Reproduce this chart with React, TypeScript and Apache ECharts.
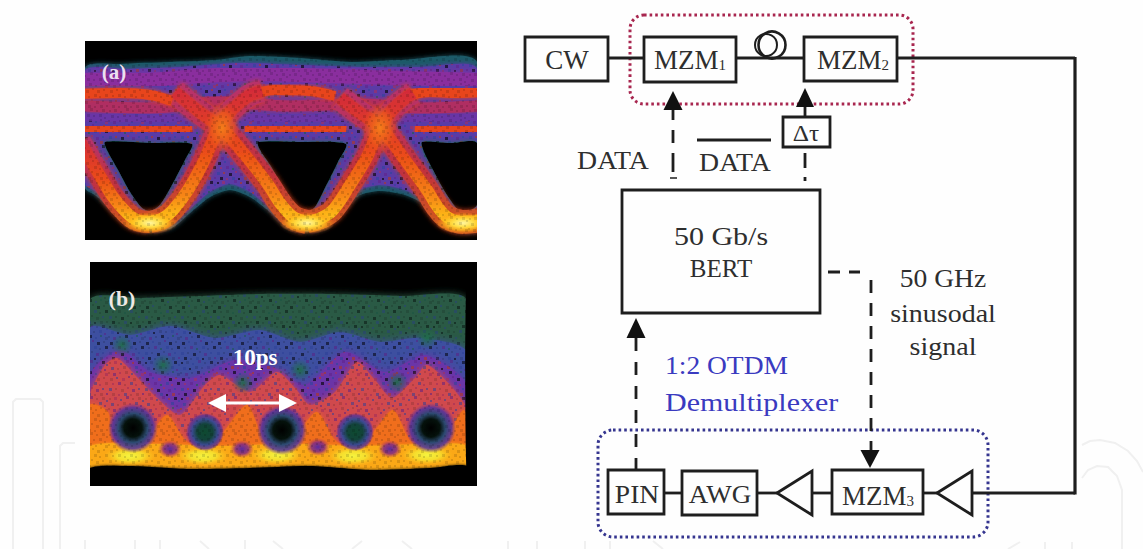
import React, { useEffect, useRef } from "react";
import * as echarts from "echarts";

type P = number[];
// ---- eye diagram (a): polygons & traces in sample units
const aEnvelope: P[] = [[85,68],[120,64],[170,62],[215,60],[250,56],[300,58],[350,62],[400,60],[477,62],[477,230],[463,232],[445,226],[425,205],[405,195],[380,191],[360,195],[340,212],[325,228],[307,232],[288,228],[270,212],[250,197],[230,190],[210,197],[190,213],[172,228],[150,232],[130,226],[110,208],[95,195],[85,188]];
const aInner: P[] = [[85,71],[130,69],[180,67],[240,63],[300,65],[360,67],[420,67],[477,69],[477,226],[463,228],[445,222],[425,201],[405,190],[380,185],[360,190],[340,208],[325,224],[307,228],[288,224],[270,208],[250,192],[230,184],[210,192],[190,209],[172,224],[150,228],[130,222],[110,204],[95,191],[85,184]];
const aEye1: P[] = [[105,142],[150,143],[192,144],[185,160],[172,185],[160,205],[150,211],[142,208],[130,192],[118,170],[108,152]];
const aEye2: P[] = [[258,142],[300,142],[346,144],[338,162],[325,188],[315,207],[307,212],[298,207],[285,190],[270,165],[260,150]];
const aEye3: P[] = [[422,142],[450,143],[477,143],[477,205],[465,212],[458,210],[445,192],[433,170],[424,152]];
const aBandTop: P[] = [[85,80],[140,80],[200,76],[260,74],[330,76],[400,78],[477,80]];
const aBandUpper: P[] = [[85,106],[150,108],[220,102],[290,106],[360,104],[420,108],[477,106]];
const aBandMid: P[] = [[85,117],[150,119],[220,116],[290,119],[360,117],[420,119],[477,117]];
const aRailTop1: P[] = [[80,94],[120,93],[150,95],[172,101]];
const aRailTop2: P[] = [[247,96],[275,90],[310,91],[335,96]];
const aRailTop3: P[] = [[405,96],[430,92],[455,93],[482,92]];
const aRailLow1: P[] = [[80,129],[120,128],[160,130],[192,128]];
const aRailLow2: P[] = [[245,128],[280,130],[320,128],[346,130]];
const aRailLow3: P[] = [[415,129],[445,130],[482,128]];
const aFall0: P[] = [[80,142],[100,176],[113,197],[127,213],[137,220],[150,222]];
const aRise1: P[] = [[150,222],[163,218],[173,210],[188,190],[203,163],[223,120],[247,97],[262,91]];
const aFall1: P[] = [[175,92],[197,110],[223,130],[245,155],[267,183],[280,203],[293,217],[307,222]];
const aRise2: P[] = [[307,222],[321,218],[333,210],[350,185],[367,157],[380,127],[395,107],[413,93]];
const aFall2: P[] = [[340,98],[360,113],[380,127],[405,160],[427,190],[437,206],[447,217],[463,222],[482,220]];
const aHot: P[] = [[150,223],[307,223],[463,223]];
const aCross: P[] = [[222,128],[380,128]];

// ---- eye diagram (b)
const bGreen: P[] = [[90,300],[140,298],[200,296],[260,294],[330,294],[400,296],[467,300],[467,470],[90,470]];
const bBlue: P[] = [[90,328],[130,335],[170,326],[215,338],[260,330],[300,342],[340,332],[380,342],[420,338],[467,352],[467,470],[90,470]];
const bPurple: P[] = [[90,375],[120,350],[150,372],[190,378],[235,360],[275,368],[305,385],[345,352],[385,372],[425,355],[467,385],[467,470],[90,470]];
const bRed: P[] = [[90,395],[105,365],[117,358],[135,375],[157,398],[180,415],[205,385],[220,375],[250,392],[277,372],[295,388],[310,405],[335,392],[357,362],[375,380],[392,398],[415,378],[427,365],[450,385],[467,410],[467,470],[90,470]];
const bOrange: P[] = [[90,405],[108,412],[112,440],[133,450],[150,435],[167,415],[185,440],[205,450],[225,430],[247,405],[262,435],[282,450],[300,430],[317,412],[335,440],[355,450],[375,430],[393,410],[410,440],[430,450],[450,430],[463,410],[467,415],[467,470],[90,470]];
const bBand: P[] = [[90,446],[150,444],[220,446],[290,444],[360,446],[430,444],[467,446],[467,470],[90,470]];
const bFloor: P[] = [[90,468],[130,466],[190,469],[250,468],[310,466],[370,470],[430,468],[467,466],[467,486],[90,486]];
const bStrip: P[] = [[467,262],[477,262],[477,486],[467,486]];
const bHolesBig: P[] = [[133,428],[282,430],[431,428]];
const bHolesSmall: P[] = [[205,432],[355,432]];
const bSpots: P[] = [[170,449],[242,449],[318,447],[390,449]];
const bGreenSpots: P[] = [[163,365],[243,383],[397,382],[122,345],[427,338],[300,370]];
const bYellow: P[] = [[130,456],[203,456],[277,455],[353,456],[427,455]];

// speckle tile: [x, y, size, colour index]
const tilePalette = ["#000000", "#d13a7a", "#3b55c8", "#7a2bb0", "#e0452c", "#1f7a60"];
const tileDots: number[][] = [
  [1,2,2,0],[6,1,3,1],[12,3,2,2],[18,0,3,3],[24,2,2,4],[30,1,3,0],[34,4,2,2],
  [3,7,3,2],[9,8,2,0],[15,6,3,4],[21,7,2,1],[27,6,3,2],[32,9,2,3],
  [0,12,2,4],[5,13,3,3],[11,12,2,1],[17,11,3,0],[23,13,2,2],[28,11,2,5],[33,13,3,1],
  [2,18,3,0],[8,17,2,2],[14,18,3,1],[20,16,2,3],[25,18,3,0],[31,17,2,4],
  [4,23,2,1],[10,22,3,3],[16,24,2,5],[22,22,3,2],[27,24,2,1],[33,22,3,0],
  [1,28,3,2],[7,28,2,4],[13,29,3,0],[19,27,2,1],[24,29,3,3],[30,28,2,2],
  [4,33,3,0],[10,34,2,1],[16,33,3,2],[22,34,2,0],[28,33,3,4],[34,33,2,3],
];
const tile = (opacity: number, only?: number[], ink?: string) => {
  const body = tileDots
    .filter((d) => !only || only.includes(d[3]))
    .map((d) => `<rect x="${d[0]}" y="${d[1]}" width="${d[2]}" height="${d[2]}" fill="${ink || tilePalette[d[3]]}" opacity="${opacity}"/>`)
    .join("");
  const svg = `<svg xmlns="http://www.w3.org/2000/svg" width="36" height="36">${body}</svg>`;
  return { image: "data:image/svg+xml;utf8," + encodeURIComponent(svg), repeat: "repeat", imageWidth: 36, imageHeight: 36 };
};
const colourTile = tile(0.55);
const darkTile = tile(0.13, undefined, "#000000");

const polygonsA = [
  { pts: aEnvelope, fill: "#1f5a68", blur: 5 },
  { pts: aInner, fill: "#5a3aa6", blur: 4 },
  { pts: aInner, fill: colourTile, blur: 0 },
  { pts: aEye1, fill: "#000", blur: 5, glow: "#1f6a55" },
  { pts: aEye2, fill: "#000", blur: 5, glow: "#1f6a55" },
  { pts: aEye3, fill: "#000", blur: 5, glow: "#1f6a55" },
];
const polygonsB = [
  { pts: bGreen, fill: "#2a5a44", blur: 7 },
  { pts: bGreen, fill: tile(0.32, [0, 2, 5]), blur: 0 },
  { pts: bBlue, fill: "#3d50a0", blur: 8 },
  { pts: bBlue, fill: tile(0.45, [0, 2, 5, 3]), blur: 0 },
  { pts: bPurple, fill: "#6a34a8", blur: 8 },
  { pts: bPurple, fill: colourTile, blur: 0 },
  { pts: bRed, fill: "#d0484e", blur: 6 },
  { pts: bRed, fill: tile(0.45, [1, 3, 2]), blur: 0 },
  { pts: bOrange, fill: "#f06e1a", blur: 4 },
  { pts: bBand, fill: "#fba816", blur: 3 },
  { pts: bFloor, fill: "#000", blur: 3 },
  { pts: bStrip, fill: "#000", blur: 0 },
];

const polySeries = (name: string, idx: number, list: any[], z: number) => ({
  type: "custom" as const,
  name,
  xAxisIndex: idx,
  yAxisIndex: idx,
  silent: true,
  clip: true,
  z,
  data: list.map((_, i) => [i]),
  renderItem: (_p: any, api: any) => {
    const o = list[api.value(0)];
    const s: any = { fill: o.fill };
    if (o.blur) {
      s.shadowBlur = o.blur;
      s.shadowColor = o.glow || o.fill;
    }
    return { type: "polygon", shape: { points: o.pts.map((p: P) => api.coord(p)), smooth: 0.25 }, style: s };
  },
});
const trace = (data: P[], width: number, color: any, z: number, blur = 3) => ({
  type: "line" as const,
  xAxisIndex: 0,
  yAxisIndex: 0,
  data,
  smooth: 0.35,
  showSymbol: false,
  silent: true,
  z,
  clip: true,
  lineStyle: { width, color, cap: "butt", shadowBlur: blur, shadowColor: typeof color === "string" ? color : "#d8401e" },
});
const vGrad = new echarts.graphic.LinearGradient(0, 0, 0, 1, [
  { offset: 0, color: "#d42c38" },
  { offset: 0.45, color: "#ea4a1a" },
  { offset: 0.8, color: "#f78612" },
  { offset: 1, color: "#ffc81c" },
]);
const haloGrad = new echarts.graphic.LinearGradient(0, 0, 0, 1, [
  { offset: 0, color: "#b8306a" },
  { offset: 0.6, color: "#c0303f" },
  { offset: 1, color: "#d05a20" },
]);
const blob = (stops: [number, string][]) =>
  new echarts.graphic.RadialGradient(0.5, 0.5, 0.5, stops.map(([offset, color]) => ({ offset, color })));
const scatter = (data: P[], size: any, color: any, idx: number, z: number) => ({
  type: "scatter" as const,
  xAxisIndex: idx,
  yAxisIndex: idx,
  data,
  symbolSize: size,
  silent: true,
  z,
  itemStyle: { color, opacity: 1 },
});

const INK = "#1e1e1e";
const serif = "'Liberation Serif', serif";
const box = (x: number, y: number, w: number, h: number, lw = 2.8) => ({
  type: "rect", z: 20, shape: { x, y, width: w, height: h },
  style: { fill: "rgba(255,255,255,0)", stroke: INK, lineWidth: lw },
});
const seg = (x1: number, y1: number, x2: number, y2: number, lw = 2.8, dash?: number[]) => ({
  type: "line", z: 20, shape: { x1, y1, x2, y2 },
  style: { stroke: INK, lineWidth: lw, lineDash: dash },
});
const head = (x: number, y: number, w: number, h: number, dir: 1 | -1) => ({
  type: "polygon", z: 21, shape: { points: [[x, y], [x - w / 2, y + dir * h], [x + w / 2, y + dir * h]] },
  style: { fill: "#111" },
});
const label = (text: string, x: number, y: number, size = 26, sx = 1, fill = "#2e2e2e", align = "center") => ({
  type: "text", z: 22, x, y, scaleX: sx,
  style: { text, fill, font: `${size}px ${serif}`, align, verticalAlign: "middle" },
});
const subLabel = (main: string, sub: string, x: number, y: number) => ({
  type: "text", z: 22, x, y,
  style: {
    text: `{m|${main}}{s|${sub}}`, align: "center", verticalAlign: "middle",
    rich: {
      m: { font: `27px ${serif}`, fill: "#2e2e2e" },
      s: { font: `15px ${serif}`, fill: "#2e2e2e", padding: [9, 0, 0, 0] },
    },
  },
});
const tri = (ax: number, bx: number, y: number, hh: number) => ({
  type: "polygon", z: 20, shape: { points: [[ax, y], [bx, y - hh], [bx, y + hh]] },
  style: { fill: "rgba(255,255,255,0)", stroke: INK, lineWidth: 2.8 },
});
const wm = (points: number[][]) => ({
  type: "polyline", z: 1, shape: { points, smooth: 0 }, style: { stroke: "#f0f0f0", lineWidth: 2, fill: "none" },
});
const mask = (x: number, y: number, width: number, height: number) => ({
  type: "rect", z: 15, shape: { x, y, width, height }, style: { fill: "#fefefe" },
});

const graphics: any[] = [
  // faint watermark outlines
  wm([[13, 549], [13, 402], [16, 399], [40, 399], [43, 402], [43, 549]]),
  wm([[60, 549], [60, 446], [63, 443], [78, 443]]),
  wm([[85, 540], [85, 549]]), wm([[135, 540], [135, 549]]), wm([[160, 540], [160, 549]]), wm([[245, 540], [245, 549]]),
  wm([[200, 541], [209, 549]]), wm([[273, 541], [283, 549]]), wm([[362, 541], [352, 549]]), wm([[402, 541], [412, 549]]),
  wm([[508, 541], [508, 549]]), wm([[537, 541], [537, 549]]), wm([[585, 541], [585, 549]]), wm([[610, 541], [610, 549]]),
  wm([[653, 541], [663, 549]]), wm([[1020, 542], [1008, 549]]), wm([[1045, 542], [1045, 549]]), wm([[1072, 542], [1072, 549]]),
  wm([[1082, 445], [1090, 441], [1100, 440], [1115, 443], [1128, 451], [1137, 461], [1143, 472]]),
  wm([[1082, 478], [1088, 470], [1097, 466], [1108, 467], [1117, 476], [1122, 490], [1122, 549]]),
  // fine grain, and tidy panel edges
  { type: "rect", z: 9, shape: { x: 85, y: 41, width: 392, height: 199 }, style: { fill: darkTile } },
  { type: "rect", z: 9, shape: { x: 90, y: 262, width: 387, height: 224 }, style: { fill: darkTile } },
  mask(70, 26, 15, 226), mask(477, 26, 16, 226), mask(70, 26, 423, 15), mask(70, 240, 423, 12),
  mask(75, 250, 15, 250), mask(477, 250, 16, 250), mask(75, 250, 418, 12), mask(75, 486, 418, 14),
  // panel overlays
  { type: "text", z: 30, x: 114, y: 72, style: { text: "(a)", fill: "#ecdff0", font: `bold 21px ${serif}`, align: "center", verticalAlign: "middle" } },
  { type: "text", z: 30, x: 122, y: 298, style: { text: "(b)", fill: "#efe9e4", font: `bold 22px ${serif}`, align: "center", verticalAlign: "middle" } },
  { type: "text", z: 30, x: 255, y: 357, style: { text: "10ps", fill: "#fff", font: `bold 23px ${serif}`, align: "center", verticalAlign: "middle" } },
  { type: "line", z: 30, shape: { x1: 215, y1: 403, x2: 290, y2: 403 }, style: { stroke: "#fff", lineWidth: 3 } },
  { type: "polygon", z: 30, shape: { points: [[208, 403], [226, 394], [226, 412]] }, style: { fill: "#fff" } },
  { type: "polygon", z: 30, shape: { points: [[297, 403], [279, 394], [279, 412]] }, style: { fill: "#fff" } },
  // top row
  box(525, 37, 83, 44), box(644, 37, 92, 45), box(804, 37, 93, 44),
  seg(608, 58, 644, 58), seg(736, 58, 804, 58), seg(897, 58, 1075, 58, 3.2),
  seg(1075, 57, 1075, 494.6, 3.2), seg(972, 493, 1075, 493, 3.2),
  { type: "circle", z: 20, shape: { cx: 772, cy: 45, r: 13.5 }, style: { fill: "none", stroke: INK, lineWidth: 2.6 } },
  { type: "circle", z: 20, shape: { cx: 766, cy: 45, r: 11 }, style: { fill: "none", stroke: INK, lineWidth: 2 } },
  { type: "rect", z: 19, shape: { x: 630, y: 15, width: 283, height: 89, r: 14 }, style: { fill: "none", stroke: "#a8264f", lineWidth: 3, lineDash: [2.6, 3] } },
  label("CW", 567, 60, 27),
  subLabel("MZM", "1", 690, 60),
  subLabel("MZM", "2", 853, 60),
  // control arrows
  head(673, 91, 19, 19, 1), seg(673, 110, 673, 120), seg(673, 130, 673, 143), seg(673, 153, 673, 172), seg(670, 178, 677, 178, 1.5),
  head(805, 88, 18, 19, 1), seg(805, 107, 805, 117),
  box(783, 117, 47, 30), label("Δτ", 806, 133, 23, 1.1),
  seg(805, 153, 805, 168), seg(805, 177, 805, 181),
  seg(697, 140, 771, 140),
  label("DATA", 613, 160, 25, 1.11), label("DATA", 735, 162, 25, 1.11),
  // BERT
  box(622, 190, 198, 123),
  label("50 Gb/s", 721, 236, 25, 1.2), label("BERT", 721, 268, 25),
  seg(828, 272, 860, 272, 2.8, [12, 9]),
  seg(871, 280, 871, 450, 2.8, [13, 10]),
  label("50 GHz", 943, 279, 25, 1.1), label("sinusodal", 943, 314, 25, 1.12), label("signal", 943, 347, 25, 1.12),
  label("1:2 OTDM", 665, 366, 25, 1.1, "#3a3ac0", "left"), label("Demultiplexer", 665, 402, 25, 1.2, "#3a3ac0", "left"),
  head(636, 318, 19, 20, 1), seg(636, 338, 636, 470, 2.8, [13, 11]),
  // bottom row
  { type: "rect", z: 19, shape: { x: 598, y: 430, width: 390, height: 107, r: 15 }, style: { fill: "none", stroke: "#35358f", lineWidth: 3, lineDash: [2.6, 3] } },
  head(870, 468, 19, 18, -1),
  box(608, 470, 56, 44), box(682, 471, 75, 44), box(832, 470, 91, 44),
  tri(777, 812, 493, 22), tri(937, 972, 493, 22),
  seg(664, 493, 682, 493), seg(757, 493, 777, 493), seg(812, 493, 832, 493), seg(923, 493, 937, 493),
  label("PIN", 637, 495, 25, 1.1), label("AWG", 720, 495, 25, 1.08), subLabel("MZM", "3", 878, 496),
];

const axes = (min: number, max: number, inverse: boolean, gridIndex: number) => ({
  type: "value" as const, gridIndex, min, max, inverse, show: false, splitLine: { show: false },
});

const option: any = {
  animation: false,
  backgroundColor: "#fefefe",
  grid: [
    { left: 85, top: 41, width: 392, height: 199, show: true, backgroundColor: "#000", borderWidth: 0 },
    { left: 90, top: 262, width: 387, height: 224, show: true, backgroundColor: "#000", borderWidth: 0 },
  ],
  xAxis: [axes(85, 477, false, 0), axes(90, 477, false, 1)],
  yAxis: [axes(41, 240, true, 0), axes(262, 486, true, 1)],
  series: [
    polySeries("eye-a", 0, polygonsA, 2),
    trace(aBandTop, 14, "#8a2f9e", 3, 6),
    trace(aBandUpper, 11, "#b02f62", 3, 5),
    trace(aBandMid, 7, "#6a35a6", 3, 4),
    trace(aFall1, 24, haloGrad, 4, 5), trace(aFall2, 24, haloGrad, 4, 5),
    trace(aFall0, 22, haloGrad, 4, 5), trace(aRise1, 22, haloGrad, 4, 5), trace(aRise2, 22, haloGrad, 4, 5),
    trace(aRailTop1, 10, "#e8441e", 5, 4), trace(aRailTop2, 10, "#e8441e", 5, 4), trace(aRailTop3, 10, "#e8441e", 5, 4),
    trace(aRailLow1, 10, "#e8441e", 5, 4), trace(aRailLow2, 10, "#e8441e", 5, 4), trace(aRailLow3, 10, "#e8441e", 5, 4),
    trace(aFall1, 12, vGrad, 5), trace(aFall2, 12, vGrad, 5),
    trace(aFall0, 12, vGrad, 6), trace(aRise1, 12, vGrad, 6), trace(aRise2, 12, vGrad, 6),
    scatter(aCross, [36, 52], blob([[0, "rgba(245,130,25,0.95)"], [0.6, "rgba(240,100,25,0.6)"], [1, "rgba(230,70,30,0)"]]), 0, 6),
    scatter(aHot, [56, 22], blob([[0, "#fff6a0"], [0.35, "#ffe04a"], [0.65, "rgba(255,190,30,0.8)"], [1, "rgba(250,130,20,0)"]]), 0, 7),
    polySeries("eye-b", 1, polygonsB, 2),
    scatter(bGreenSpots, 22, blob([[0, "rgba(30,110,70,0.9)"], [1, "rgba(30,110,70,0)"]]), 1, 3),
    scatter(bYellow, [52, 20], blob([[0, "#f4f440"], [0.5, "rgba(245,235,50,0.8)"], [1, "rgba(250,200,30,0)"]]), 1, 4),
    scatter(bHolesBig, 50, blob([[0, "#000"], [0.36, "#05120c"], [0.58, "#2c4a70"], [0.82, "rgba(80,50,160,0.85)"], [1, "rgba(110,50,150,0)"]]), 1, 5),
    scatter(bHolesSmall, 38, blob([[0, "#0e4a30"], [0.42, "#12433a"], [0.68, "#3a4a90"], [0.88, "rgba(90,50,150,0.8)"], [1, "rgba(110,50,150,0)"]]), 1, 5),
    scatter(bSpots, [24, 18], blob([[0, "#5a2aa0"], [0.55, "rgba(130,40,130,0.85)"], [1, "rgba(200,60,80,0)"]]), 1, 5),
  ],
  graphic: { elements: graphics },
};

export default function App() {
  const ref = useRef<HTMLDivElement>(null);
  useEffect(() => {
    const chart = echarts.init(ref.current!, undefined, { renderer: "svg" });
    chart.setOption(option);
    return () => chart.dispose();
  }, []);
  return <div ref={ref} style={{ position: "absolute", left: 0, top: 0, width: 1143, height: 549 }} />;
}
